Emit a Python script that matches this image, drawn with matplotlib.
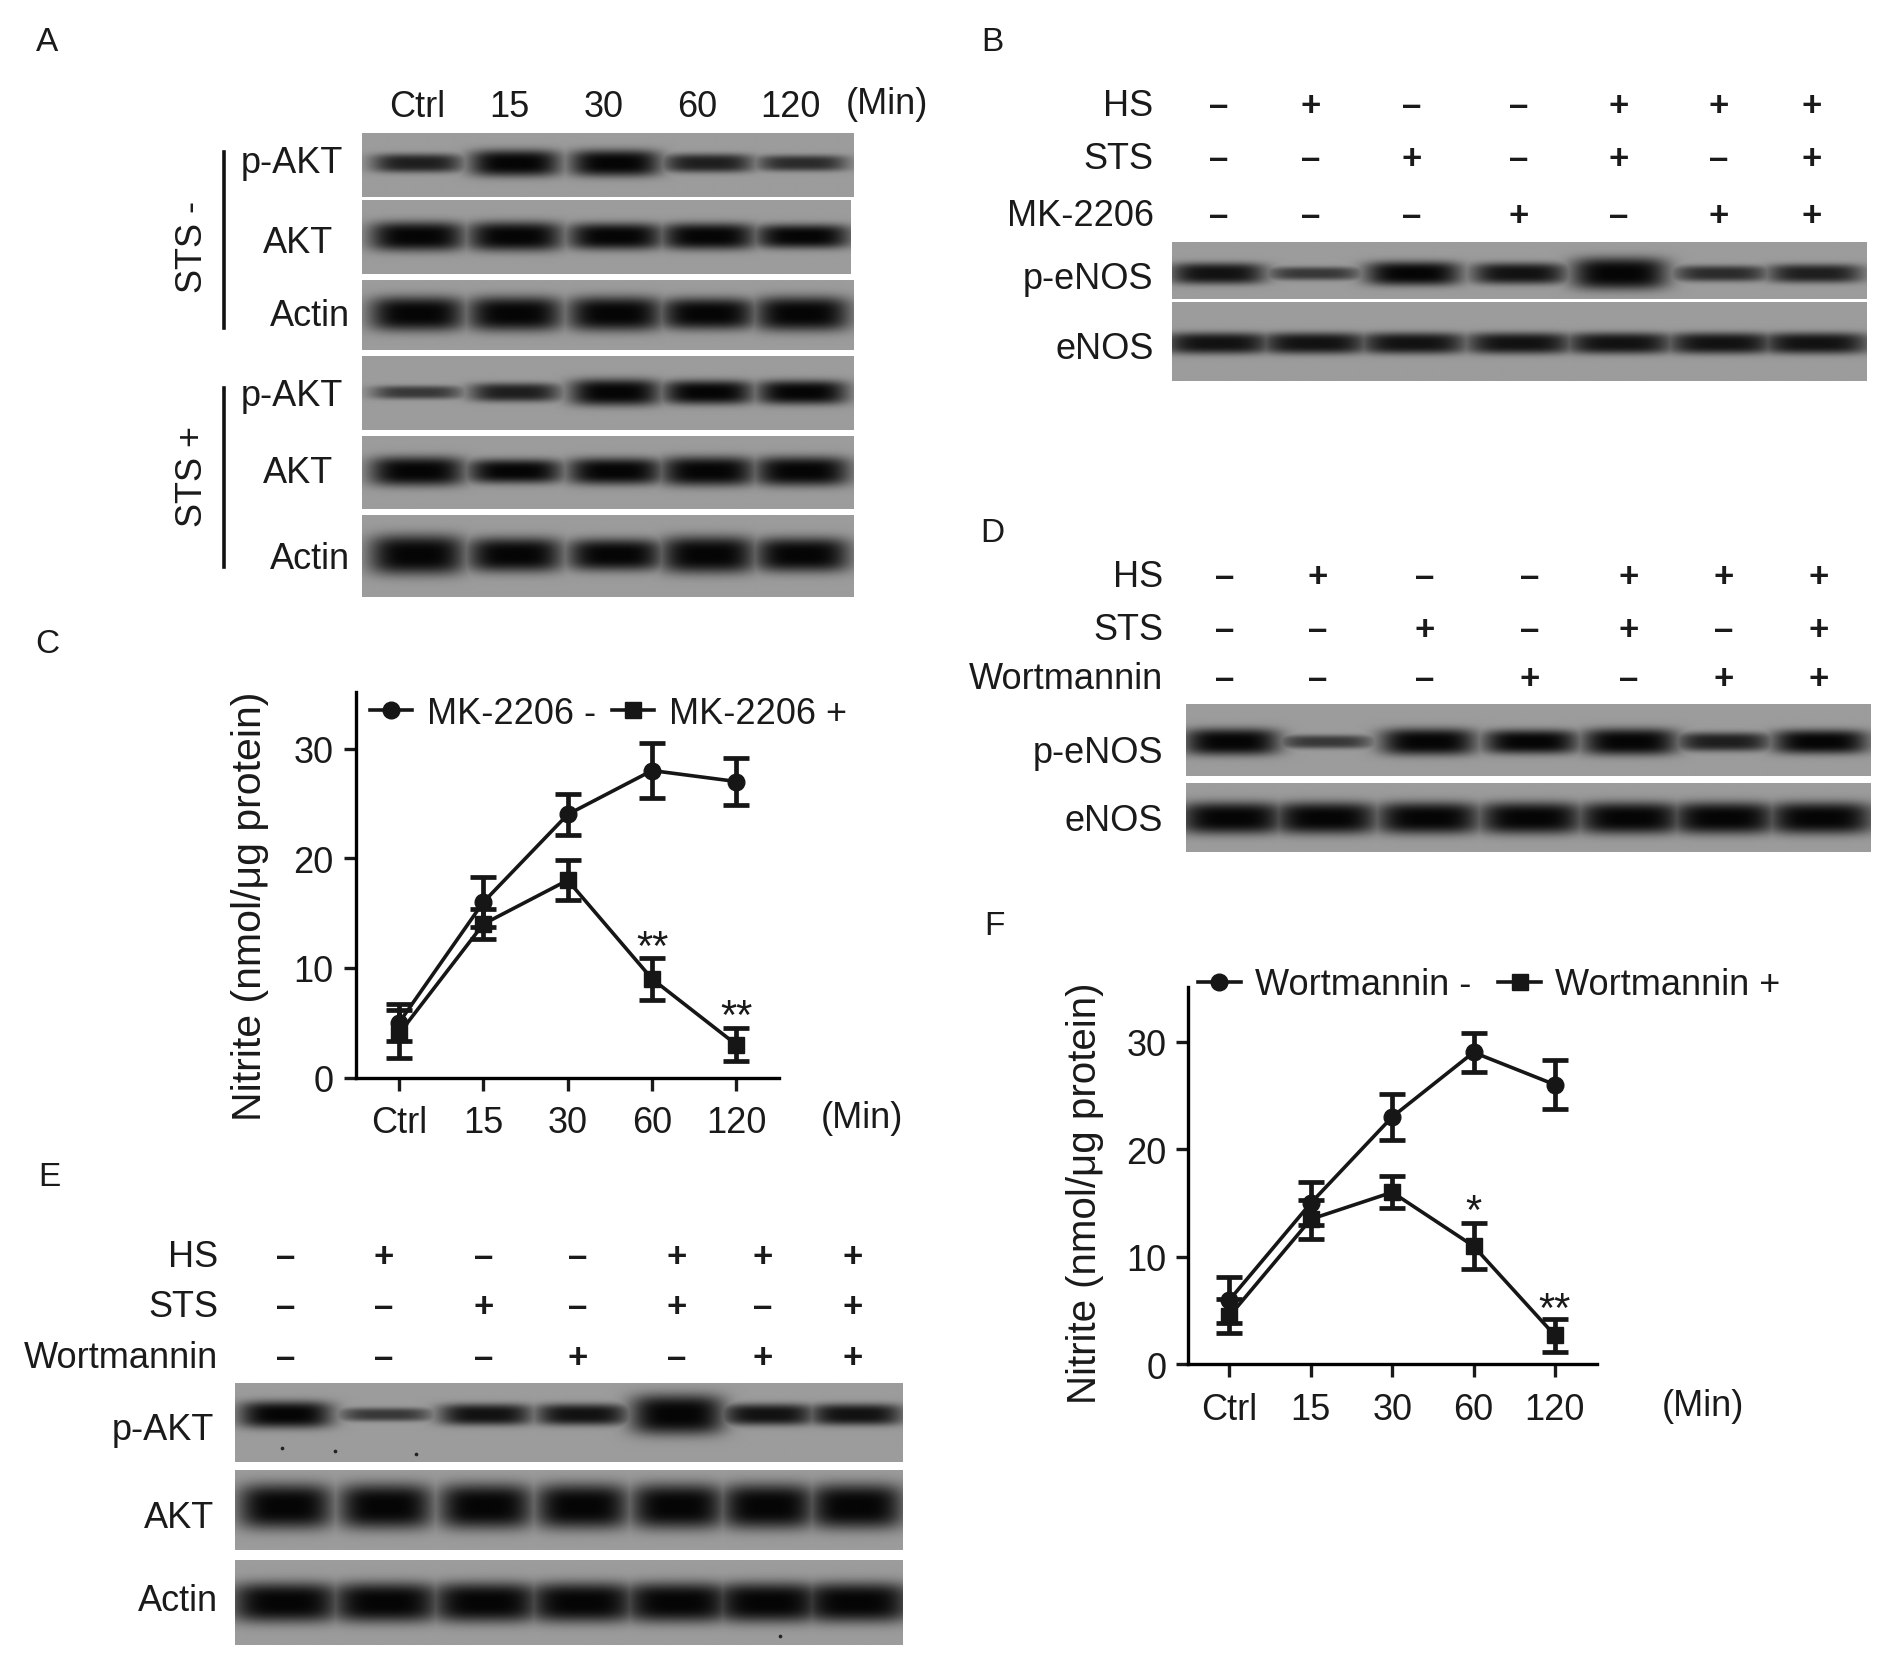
import numpy as np
import matplotlib
matplotlib.use("Agg")
import matplotlib.pyplot as plt
from matplotlib.lines import Line2D

plt.rcParams['font.family'] = ['Liberation Sans', 'DejaVu Sans']
plt.rcParams['text.color'] = '#1a1a1a'

# line charts
minutes = ['Ctrl', '15', '30', '60', '120']
mk_minus = [5, 16, 24, 28, 27]
mk_minus_err = [1.7, 2.3, 1.9, 2.5, 2.1]
mk_plus = [4, 14, 18, 9, 3]
mk_plus_err = [2.2, 1.4, 1.8, 1.9, 1.5]
wm_minus = [6, 15, 23, 29, 26]
wm_minus_err = [2.1, 2.0, 2.1, 1.8, 2.3]
wm_plus = [4.5, 13.5, 16, 11, 2.7]
wm_plus_err = [1.6, 1.8, 1.5, 2.1, 1.5]

# treatment rows, 1 is + and 0 is -
hs_row = [0, 1, 0, 0, 1, 1, 1]
sts_row = [0, 0, 1, 0, 1, 0, 1]
drug_row = [0, 0, 0, 1, 0, 1, 1]

# band half heights per lane
a_pakt1 = [7, 10, 10, 7, 6]
a_akt1 = [11, 11, 10, 10, 9]
a_actin1 = [13, 13, 13, 12, 13]
a_pakt2 = [5, 7, 10, 9, 9]
a_akt2 = [11, 9, 10, 11, 11]
a_actin2 = [15, 13, 12, 14, 13]
b_penos = [8, 5, 9, 8, 12, 6, 7]
b_enos = [8, 8, 8, 8, 8, 8, 8]
d_penos = [10, 5, 10, 9, 10, 7, 9]
d_enos = [12, 12, 12, 12, 12, 12, 12]
e_pakt = [10, 5, 8, 8, 15, 8, 8]
e_akt = [17, 17, 17, 17, 17, 17, 17]
e_actin = [15, 15, 15, 15, 15, 15, 15]

# specks on blot E
speck_x = [234, 278, 345, 647]
speck_y = [1202, 1205, 1207, 1358]

W, H = 1568, 1389  # layout below is in these units
fig = plt.figure(figsize=(18.9, 16.74), dpi=100)
bg = fig.add_axes([0, 0, 1, 1])
bg.axis('off')


def band_image(x0, x1, y0, y1, lanes, halfw, ymid, thick, grey=0.61):
    xs = np.arange(x0, x1, 1.0) + 0.5
    ys = np.arange(y0, y1, 1.0) + 0.5
    xx, yy = np.meshgrid(xs, ys)
    level = np.full_like(xx, grey)
    for lx, t in zip(lanes, thick):
        dark = 0.02 + max(0, 9 - t) * 0.05
        one = np.exp(-((xx - lx) / halfw) ** 4) * np.exp(-(np.abs(yy - ymid) / (t * 1.1)) ** 3.2)
        level = np.minimum(level, grey + (dark - grey) * one)
    return level


def blot(x0, x1, y0, y1, lanes, halfw, ymid, thick):
    img = band_image(x0, x1, y0, y1, lanes, halfw, ymid, thick)
    bg.imshow(img, extent=(x0, x1, y1, y0), cmap='gray', vmin=0, vmax=1,
              aspect='auto', interpolation='bilinear')


a_lanes = [346, 427, 510, 587, 665]
blot(300, 708, 111, 164, a_lanes, 38, 136, a_pakt1)
blot(300, 705, 167, 228, a_lanes, 40, 197, a_akt1)
blot(300, 708, 233, 291, a_lanes, 40, 261, a_actin1)
blot(300, 708, 297, 358, a_lanes, 38, 327, a_pakt2)
blot(300, 708, 363, 423, a_lanes, 40, 392, a_akt2)
blot(300, 708, 428, 496, a_lanes, 40, 461, a_actin2)

b_lanes = [1010, 1090, 1172, 1260, 1343, 1427, 1505]
blot(972, 1548, 202, 249, b_lanes, 40, 228, b_penos)
blot(972, 1548, 252, 317, b_lanes, 45, 286, b_enos)

d_lanes = [1022, 1100, 1185, 1270, 1352, 1430, 1510]
blot(984, 1552, 586, 645, d_lanes, 40, 617, d_penos)
blot(984, 1552, 651, 708, d_lanes, 44, 680, d_enos)

e_lanes = [237, 320, 403, 483, 562, 637, 710]
blot(195, 749, 1149, 1214, e_lanes, 39, 1175, e_pakt)
blot(195, 749, 1221, 1287, e_lanes, 40, 1251, e_akt)
blot(195, 749, 1296, 1366, e_lanes, 46, 1331, e_actin)
bg.scatter(speck_x, speck_y, s=7, color='#222222', linewidths=0)

bg.set_xlim(0, W)
bg.set_ylim(H, 0)


def label(x, y, s, ha='center', size=26, rot=0, weight='normal'):
    bg.text(x, y + 2, s, ha=ha, va='center', fontsize=size, rotation=rot, fontweight=weight)


for s, x, y in [('A', 39, 33), ('B', 823, 33), ('C', 39, 533),
                ('D', 823, 441), ('E', 41, 975), ('F', 825, 767)]:
    label(x, y, s, size=24)

# panel A text
for s, x in zip(minutes, [346, 423, 501, 578, 656]):
    label(x, 87, s)
label(736, 85, '(Min)')
for s, x, y in [('p-AKT', 285, 134), ('AKT', 276, 200), ('Actin', 290, 261),
                ('p-AKT', 285, 327), ('AKT', 276, 391), ('Actin', 290, 462)]:
    label(x, y, s, ha='right')
label(160, 203, 'STS -', rot=90)
label(160, 393, 'STS +', rot=90)
bg.plot([186, 186], [127, 273], color='#111111', lw=2.6)
bg.plot([186, 186], [323, 471], color='#111111', lw=2.6)


def sign_rows(names, right, cols, rows):
    for name, y, row in zip(names, rows, (hs_row, sts_row, drug_row)):
        label(right, y, name, ha='right')
        for x, v in zip(cols, row):
            label(x, y, '+' if v else '\u2013', size=25, weight='bold')


sign_rows(['HS', 'STS', 'MK-2206'], 957,
          [1011, 1087, 1171, 1260, 1343, 1426, 1503], [86, 130, 178])
sign_rows(['HS', 'STS', 'Wortmannin'], 965,
          [1016, 1093, 1182, 1269, 1351, 1430, 1509], [477, 521, 562])
sign_rows(['HS', 'STS', 'Wortmannin'], 181,
          [237, 318, 401, 479, 561, 633, 707], [1041, 1083, 1125])

for s, x, y in [('p-eNOS', 957, 230), ('eNOS', 957, 288),
                ('p-eNOS', 965, 623), ('eNOS', 965, 680),
                ('p-AKT', 178, 1185), ('AKT', 178, 1258), ('Actin', 181, 1327)]:
    label(x, y, s, ha='right')


def line_panel(left, right, top, base, unit, zero_x, a, a_err, b, b_err):
    ax = fig.add_axes([left / W, 1 - base / H, (right - left) / W, (base - top) / H])
    ax.patch.set_alpha(0)
    x = np.arange(len(minutes))
    style = dict(color='#161616', lw=2.6, elinewidth=3.4, capsize=9.5, capthick=3.4)
    ax.errorbar(x, a, yerr=a_err, fmt='-o', ms=12, **style)
    ax.errorbar(x, b, yerr=b_err, fmt='-s', ms=11, **style)
    ax.set_xlim((left - zero_x) / unit, (right - zero_x) / unit)
    return ax


# panel C
ax_c = line_panel(295, 646, 575, 895, 70, 331, mk_minus, mk_minus_err, mk_plus, mk_plus_err)
ax_c.set_ylim(0, 320 / 9.1)
ax_c.text(3, 10.0, '**', ha='center', va='bottom', fontsize=30)
ax_c.text(4, 3.7, '**', ha='center', va='bottom', fontsize=30)
label(207, 750, 'Nitrite (nmol/\u03bcg protein)', size=29.5, rot=90)
label(715, 926, '(Min)')

# panel F
ax_f = line_panel(986, 1325, 820, 1133, 67.5, 1020, wm_minus, wm_minus_err, wm_plus, wm_plus_err)
ax_f.set_ylim(0, 313 / 8.93)
ax_f.text(3, 12.3, '*', ha='center', va='bottom', fontsize=30)
ax_f.text(4, 3.2, '**', ha='center', va='bottom', fontsize=30)
label(900, 988, 'Nitrite (nmol/\u03bcg protein)', size=29, rot=90)
label(1413, 1165, '(Min)')

for ax in (ax_c, ax_f):
    ax.spines['top'].set_visible(False)
    ax.spines['right'].set_visible(False)
    ax.spines['left'].set_linewidth(2.4)
    ax.spines['bottom'].set_linewidth(2.4)
    ax.set_xticks(range(len(minutes)))
    ax.set_xticklabels(minutes)
    ax.set_yticks([0, 10, 20, 30])
    ax.tick_params(axis='both', labelsize=26, width=2.4, length=9, color='#1a1a1a',
                   labelcolor='#1a1a1a')
    ax.tick_params(axis='x', pad=11)
    ax.tick_params(axis='y', pad=7)


def add_legend(ax, names, x, y, gap):
    handles = [Line2D([], [], color='#161616', lw=2.6, marker='o', ms=12, label=names[0]),
               Line2D([], [], color='#161616', lw=2.6, marker='s', ms=11, label=names[1])]
    ax.legend(handles=handles, loc='center left', bbox_to_anchor=(x, y), ncol=2, frameon=False,
              fontsize=26, handlelength=1.17, handletextpad=0.4, columnspacing=gap,
              borderpad=0, borderaxespad=0)


add_legend(ax_c, ['MK-2206 -', 'MK-2206 +'], 0.034, 0.945, 0.45)
add_legend(ax_f, ['Wortmannin -', 'Wortmannin +'], 0.024, 1.006, 0.75)

fig.savefig('out.png', dpi=100)
